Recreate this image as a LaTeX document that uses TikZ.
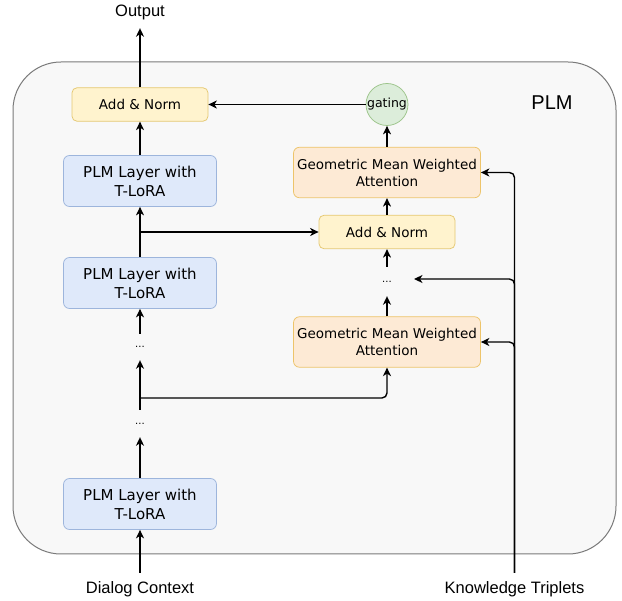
\documentclass[tikz,border=0pt]{standalone}
\usepackage{fontspec}
\setmainfont{Liberation Sans}
\newfontfamily\boxfont{DejaVu Sans}
\usepackage{xcolor}
\usepackage{tikz}
\usetikzlibrary{arrows.meta, positioning, calc}

\definecolor{framefill}{HTML}{F8F8F8}
\definecolor{frameline}{HTML}{7A7A7A}
\definecolor{plmfill}{HTML}{DFE9FA}
\definecolor{plmline}{HTML}{9DB5DC}
\definecolor{normfill}{HTML}{FFF3CE}
\definecolor{normline}{HTML}{E5C872}
\definecolor{gmfill}{HTML}{FDEAD5}
\definecolor{gmline}{HTML}{EDC46A}
\definecolor{gatefill}{HTML}{DCEDDA}
\definecolor{gateline}{HTML}{9CC48A}

\begin{document}
\begin{tikzpicture}[x=1pt, y=-1pt,
  arr/.style={line width=1.4pt, -{Stealth[length=8.5pt, width=8pt, inset=2.5pt]}},
  plmbox/.style={draw=plmline, fill=plmfill, line width=0.75pt, rounded corners=6pt,
    minimum width=153pt, minimum height=51pt, align=center,
    font={\boxfont\fontsize{15}{19}\selectfont}},
  normbox/.style={draw=normline, fill=normfill, line width=0.75pt, rounded corners=5pt,
    minimum width=136pt, minimum height=33.5pt, align=center,
    font={\boxfont\fontsize{13.5}{17}\selectfont}},
  gmbox/.style={draw=gmline, fill=gmfill, line width=0.75pt, rounded corners=6pt,
    minimum width=187pt, minimum height=50.5pt, align=center,
    font={\boxfont\fontsize{13.5}{17}\selectfont}},
  gatecirc/.style={circle, draw=gateline, fill=gatefill, line width=0.75pt,
    minimum size=42pt, inner sep=0pt, font={\boxfont\fontsize{12.5}{15}\selectfont}},
  dotsnode/.style={inner sep=0pt, font={\boxfont\fontsize{10}{12}\selectfont}},
  iolbl/.style={inner sep=0pt, minimum height=32pt, font={\fontsize{16.5}{20}\selectfont}}
]
  \useasboundingbox (0,0) rectangle (622,601);

  % PLM frame
  \draw[draw=frameline, fill=framefill, line width=1pt, rounded corners=48pt]
    (13,62) rectangle (616,554);
  \node[font={\fontsize{20}{24}\selectfont}] (plmtag) at (552,103) {PLM};

  % left column: PLM layers
  \node[normbox] (an1) at (140,104.5) {Add \& Norm};
  \node[plmbox] (plm1) at (140,181) {PLM Layer with\\T-LoRA};
  \node[plmbox] (plm2) at (140,283) {PLM Layer with\\T-LoRA};
  \node[dotsnode, minimum height=26pt] (ld1) at (140,347) {...};
  \node[dotsnode, minimum height=27pt] (ld2) at (140,423.5) {...};
  \node[plmbox] (plm3) at (140,504) {PLM Layer with\\T-LoRA};

  % right column: knowledge attention
  \node[gatecirc] (gate) at (387,104.5) {gating};
  \node[gmbox] (gm1) at (387,172.5) {Geometric Mean Weighted\\Attention};
  \node[normbox] (an2) at (387,232) {Add \& Norm};
  \node[dotsnode, minimum height=29pt] (rd) at (387,281.5) {...};
  \node[gmbox] (gm2) at (387,342) {Geometric Mean Weighted\\Attention};

  % inputs and output
  \node[iolbl] (out) at (140,12) {Output};
  \node[iolbl] (dlg) at (140,589) {Dialog Context};
  \node[iolbl] (kt) at (514.5,589) {Knowledge Triplets};

  % main stack
  \draw[arr] (dlg.north) -- (plm3.south);
  \draw[arr] (plm3.north) -- (ld2.south);
  \draw[arr] (ld2.north) -- (ld1.south);
  \draw[arr] (ld1.north) -- (plm2.south);
  \draw[arr] (plm2.north) -- (plm1.south);
  \draw[arr] (plm1.north) -- (an1.south);
  \draw[arr] (an1.north) -- (out.south);

  % taps into the knowledge branch
  \coordinate (tapA) at (plm2.north |- an2.west);
  \coordinate (tapB) at (140,398);
  \draw[arr] (tapA) -- (an2.west);
  \draw[arr, rounded corners=5pt] (tapB) -| (gm2.south);

  % knowledge branch stack
  \draw[arr] (gm2.north) -- (rd.south);
  \draw[arr] (rd.north) -- (an2.south);
  \draw[arr] (an2.north) -- (gm1.south);
  \draw[arr] (gm1.north) -- (gate.south);
  \draw[arr] (gate.west) -- (an1.east);

  % knowledge triplets feed
  \coordinate (rdin) at (414,279);
  \draw[arr, rounded corners=5pt] (kt.north) |- (gm1.east);
  \draw[arr, rounded corners=5pt] (kt.north) |- (rdin);
  \draw[arr, rounded corners=5pt] (kt.north) |- (gm2.east);
\end{tikzpicture}
\end{document}
